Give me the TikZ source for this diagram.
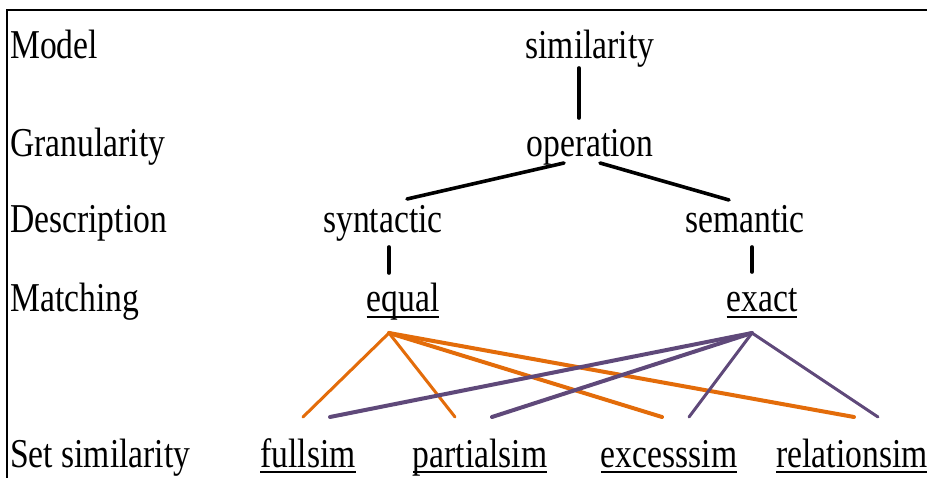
\documentclass[tikz,border=0pt]{standalone}
\usepackage{fontspec}
\setmainfont{Liberation Serif}[FakeStretch=0.82]
\definecolor{matchorange}{HTML}{E36C0A}
\definecolor{matchpurple}{HTML}{5F497A}
\newcommand{\ulword}[1]{\sbox0{#1}\rlap{\rule[-0.15em]{\wd0}{0.05em}}\usebox0}

\begin{document}
\begin{tikzpicture}[x=1pt,y=-1pt,
  level/.style={anchor=base west,inner sep=0pt,font=\fontsize{41}{41}\selectfont},
  term/.style={anchor=base,inner sep=0pt,font=\fontsize{41}{41}\selectfont},
  tree/.style={line width=3.6pt,line cap=round},
  eqline/.style={matchorange,line cap=round,line width=#1},
  exline/.style={matchpurple,line cap=round,line width=#1}]
  \useasboundingbox (0,0) rectangle (927,478);
  \draw[line width=2.4pt](7,478)--(7,10)--(927,10);
  % levels
  \node[level](model) at (10,59) {Model};
  \node[level](granularity) at (10,157) {Granularity};
  \node[level](description) at (10,233) {Description};
  \node[level](matching) at (10,312) {Matching};
  \node[level](setsim) at (10,467) {Set similarity};
  % tree
  \node[term](similarity) at (590,59) {similarity};
  \node[term](operation) at (590,157) {operation};
  \node[term](syntactic) at (383,233) {syntactic};
  \node[term](semantic) at (745,233) {semantic};
  \node[term](equal) at (403,312) {\ulword{equal}};
  \node[term](exact) at (762,312) {\ulword{exact}};
  \node[term](fullsim) at (308,467) {\ulword{fullsim}};
  \node[term](partialsim) at (480,467) {\ulword{partialsim}};
  \node[term](excesssim) at (669,467) {\ulword{excesssim}};
  \node[term](relationsim) at (852,467) {\ulword{relationsim}};
  % ports
  \coordinate(sim-d) at (579,68);
  \coordinate(op-u) at (579,118);
  \coordinate(op-l) at (564,163);
  \coordinate(op-r) at (600,163);
  \coordinate(syn-u) at (407,199);
  \coordinate(sem-u) at (729,200);
  \coordinate(syn-d) at (389,247);
  \coordinate(eq-u) at (389,273);
  \coordinate(sem-d) at (752,247);
  \coordinate(ex-u) at (752,272);
  \coordinate(eq-d) at (389,333);
  \coordinate(ex-d) at (752,333);
  \foreach \leaf/\o/\p in {full/303/330,partial/455/492,excess/662/689,relation/854/878}{
    \coordinate(\leaf-o) at (\o,417);
    \coordinate(\leaf-p) at (\p,417);
  }
  \draw[tree](sim-d)--(op-u);
  \draw[tree](op-l)--(syn-u);
  \draw[tree](op-r)--(sem-u);
  \draw[tree](syn-d)--(eq-u);
  \draw[tree](sem-d)--(ex-u);
  % matching to set similarity
  \draw[eqline=3pt](full-o)--(eq-d)--(partial-o);
  \draw[eqline=4pt](eq-d)--(excess-o);
  \draw[eqline=4pt](eq-d)--(relation-o);
  \draw[exline=4pt](full-p)--(ex-d);
  \draw[exline=4pt](partial-p)--(ex-d);
  \draw[exline=3pt](excess-p)--(ex-d)--(relation-p);
\end{tikzpicture}
\end{document}
